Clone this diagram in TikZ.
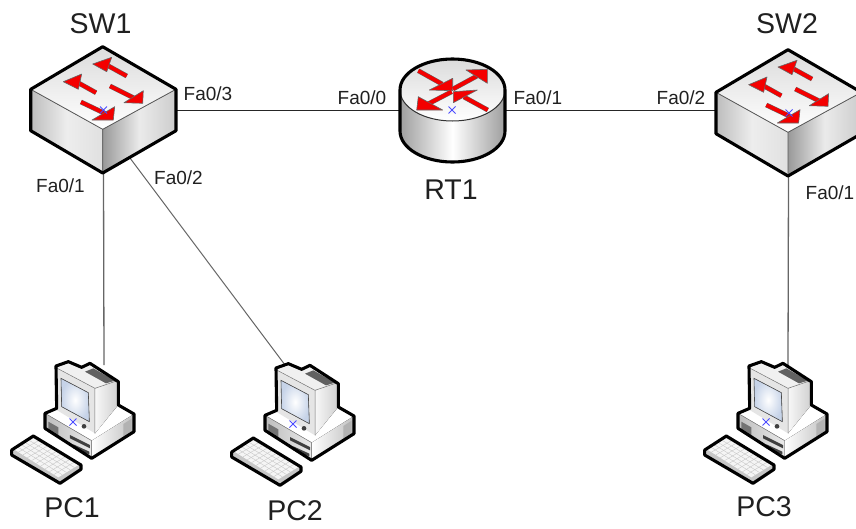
\documentclass[tikz,border=0pt]{standalone}
\usepackage{fontspec}
\setmainfont{Liberation Sans}
\usetikzlibrary{calc}
\definecolor{txt}{HTML}{202020}
\definecolor{arrowred}{HTML}{F40000}
\definecolor{screenedge}{HTML}{C6D3E8}
\tikzset{
  smalllabel/.style={text=txt,inner sep=0pt,font=\fontsize{19}{21}\selectfont},
  biglabel/.style={text=txt,inner sep=0pt,font=\fontsize{28.5}{31}\selectfont},
  device/.style={inner sep=0pt,outer sep=0pt,minimum width=#1},
  link/.style={line width=1pt,draw=black!85},
  graylink/.style={line width=1.3pt,draw=black!60},
  outline/.style={line width=3.1pt,draw=black,line join=round},
  shaft/.style={line width=3.8pt,draw=arrowred},
  shaftedge/.style={line width=4.8pt,draw=black!60},
  head/.style={fill=arrowred,draw=black!60,line width=.6pt,line join=round},
  xmark/.style={draw=blue!70!white,line width=.9pt},
}
\newcommand{\xm}[2]{\draw[xmark] (#1-3.5,#2-3.5) -- (#1+3.5,#2+3.5) (#1-3.5,#2+3.5) -- (#1+3.5,#2-3.5);}
\newcommand{\shaftline}[2]{\draw[shaftedge] #1 -- #2; \draw[shaft] #1 -- #2;}
\newcommand{\switchicon}[2]{%
  \begin{scope}[shift={(#1,#2)}]
    \fill[left color=black!26,right color=black!12,middle color=black!7] (30.7,89.3) -- (102.7,129.3) -- (102.7,173) -- (30.7,130.7) -- cycle;
    \fill[left color=black!40,right color=black!20,middle color=black!8] (102.7,129.3) -- (176,89.3) -- (176,130.7) -- (102.7,173) -- cycle;
    \fill[shading angle=-60,top color=black!14,bottom color=white] (30.7,89.3) -- (102.7,46.7) -- (176,89.3) -- (102.7,129.3) -- cycle;
    \draw[black!65,line width=.8pt] (30.7,89.3) -- (102.7,129.3) -- (176,89.3) (102.7,129.3) -- (102.7,173);
    \draw[outline] (30.7,89.3) -- (102.7,46.7) -- (176,89.3) -- (176,130.7) -- (102.7,173) -- (30.7,130.7) -- cycle;
    \shaftline{(126.7,76)}{(104,63.5)}
    \draw[head] (92.7,64) -- (111.7,57.3) -- (106.7,71.7) -- cycle;
    \shaftline{(96,92.7)}{(75,81)}
    \draw[head] (63.3,81.7) -- (81.7,74) -- (78.3,89.3) -- cycle;
    \shaftline{(110,86)}{(134,98)}
    \draw[head] (143.3,90.7) -- (142.7,103.3) -- (124,102.7) -- cycle;
    \shaftline{(81,102)}{(105,113.5)}
    \draw[head] (114.7,106.7) -- (113.3,120) -- (92,120) -- cycle;
  \end{scope}}
\newcommand{\routericon}{%
  \fill[left color=black!38,right color=black!38,middle color=white] (400,90) -- (400,131) arc[start angle=180,end angle=0,x radius=52.5,y radius=31] -- (505,90) -- cycle;
  \fill[top color=black!14,bottom color=white] (452.5,90) ellipse[x radius=52.5,y radius=31];
  \draw[black!80,line width=1pt] (400,90) arc[start angle=180,end angle=0,x radius=52.5,y radius=31];
  \draw[outline] (400,90) arc[start angle=180,end angle=360,x radius=52.5,y radius=31] -- (505,131) arc[start angle=0,end angle=180,x radius=52.5,y radius=31] -- cycle;
  \shaftline{(418.3,70.7)}{(442,84)}
  \draw[head] (452.7,78.3) -- (452.7,90.7) -- (429.3,90) -- cycle;
  \shaftline{(453,89)}{(477,76)}
  \draw[head] (466,70) -- (487.3,69.3) -- (487.3,83.3) -- cycle;
  \shaftline{(451.7,91.7)}{(428,104)}
  \draw[head] (418.3,96.7) -- (416.7,110) -- (442.7,110) -- cycle;
  \shaftline{(487.7,110)}{(464,97)}
  \draw[head] (477.3,90) -- (453.3,91.7) -- (453.3,102.7) -- cycle;}
\newcommand{\pcicon}[2]{%
  \begin{scope}[shift={(#1,350+#2)},x=.33333pt,y=-.33333pt]
    % keyboard
    \fill[black!22] (35,300) -- (100,258) -- (243,345) -- (243,358) -- (180,400) -- (35,315) -- cycle;
    \fill[black!4] (42,298) -- (100,265) -- (235,345) -- (175,382) -- cycle;
    \foreach \t in {.2,.4,.6,.8}{
      \draw[black!22,line width=.4pt] ($(42,298)!\t!(100,265)$) -- ($(175,382)!\t!(235,345)$);}
    \foreach \t in {.1,.2,...,.91}{
      \draw[black!22,line width=.4pt] ($(42,298)!\t!(175,382)$) -- ($(100,265)!\t!(235,345)$);}
    \draw[outline] (35,300) -- (100,258) -- (243,345) -- (243,358) -- (180,400) -- (35,315) -- cycle;
    % base
    \fill[white] (135,190) -- (170,175) -- (355,165) -- (402,192) -- (275,272) -- cycle;
    \fill[left color=black!26,right color=black!8] (135,190) -- (275,272) -- (275,325) -- (135,235) -- cycle;
    \fill[left color=white,right color=black!25] (275,272) -- (402,192) -- (402,245) -- (275,325) -- cycle;
    \fill[black!55] (145,215) -- (175,232) -- (175,265) -- (145,246) -- cycle;
    \fill[black!75] (210,255) -- (270,285) -- (270,295) -- (210,265) -- cycle;
    \fill[black!75] (220,283) -- (268,305) -- (268,313) -- (220,295) -- cycle;
    \fill[black!30] (370,222) -- (395,206) -- (395,245) -- (370,262) -- cycle;
    \draw[black!50,line width=.5pt] (135,190) -- (275,272) (275,272) -- (275,325);
    % monitor
    \fill[left color=black!3,right color=black!18] (285,115) -- (352,90) -- (352,168) -- (285,250) -- cycle;
    \fill[black!6] (172,52) -- (205,42) -- (245,58) -- (270,48) -- (352,92) -- (285,115) -- cycle;
    \fill[black!62] (255,65) -- (280,55) -- (345,92) -- (318,100) -- cycle;
    \fill[black!10] (172,55) -- (285,115) -- (285,250) -- (170,180) -- cycle;
    \fill[inner color=white,outer color=screenedge] (183,85) -- (265,128) -- (268,215) -- (185,170) -- cycle;
    \draw[black!70,line width=.6pt] (183,85) -- (265,128) -- (268,215) -- (185,170) -- cycle;
    \fill[black!75] (252,229) circle[radius=7];
    \draw[black!55,line width=.5pt] (172,55) -- (285,115) -- (285,250) (285,115) -- (352,92);
    % silhouette
    \draw[outline] (168,48) -- (205,35) -- (245,52) -- (270,40) -- (355,95) -- (355,165) -- (402,192) -- (402,245) -- (275,325) -- (135,235) -- (135,190) -- (170,175) -- cycle;
  \end{scope}}
\begin{document}
\begin{tikzpicture}[x=1pt,y=-1pt]
\useasboundingbox (0,0) rectangle (856,528);
\clip (0,0) rectangle (856,528);
\fill[white] (0,0) rectangle (856,528);
% anchor nodes of the devices
\node[device=146pt,minimum height=126pt] (sw1) at (103.5,110) {};
\node[device=105pt,minimum height=104pt] (rt1) at (452.5,110) {};
\node[device=146pt,minimum height=130pt] (sw2) at (788.5,110) {};
\node[device=130pt,minimum height=120pt,anchor=north] (pc1) at (104,365) {};
\node[device=130pt,minimum height=120pt,anchor=north] (pc2) at (285,365) {};
\node[device=130pt,minimum height=120pt,anchor=north] (pc3) at (788,365) {};
\coordinate (sw1low) at (130,158);
% connectors
\draw[link] (sw1.east) -- (rt1.west);
\draw[link] (rt1.east) -- (sw2.west);
\draw[graylink] (sw1.south) -- (pc1.north);
\draw[graylink,line width=1pt] (sw1low) -- (pc2.north);
\draw[graylink] (sw2.south) -- (pc3.north);
% icons
\switchicon{0}{0}
\switchicon{685.3}{3}
\routericon
\pcicon{0}{0}
\pcicon{220}{2}
\pcicon{693}{0}
\xm{103.5}{110}
\xm{452}{110}
\xm{789}{113}
\xm{73}{422}
\xm{293}{424}
\xm{766}{422}
% labels
\node[biglabel] (l1) at (100.5,24) {SW1};
\node[biglabel] (l2) at (787,24) {SW2};
\node[biglabel] (l3) at (451,190) {RT1};
\node[biglabel] (l4) at (72,508) {PC1};
\node[biglabel] (l5) at (295,511) {PC2};
\node[biglabel] (l6) at (764,507) {PC3};
\node[smalllabel] (f1) at (208,94) {Fa0/3};
\node[smalllabel] (f2) at (362,98) {Fa0/0};
\node[smalllabel] (f3) at (538,98) {Fa0/1};
\node[smalllabel] (f4) at (681,98) {Fa0/2};
\node[smalllabel] (f5) at (60.5,186) {Fa0/1};
\node[smalllabel] (f6) at (178.5,178) {Fa0/2};
\node[smalllabel] (f7) at (830,193) {Fa0/1};
\end{tikzpicture}
\end{document}
